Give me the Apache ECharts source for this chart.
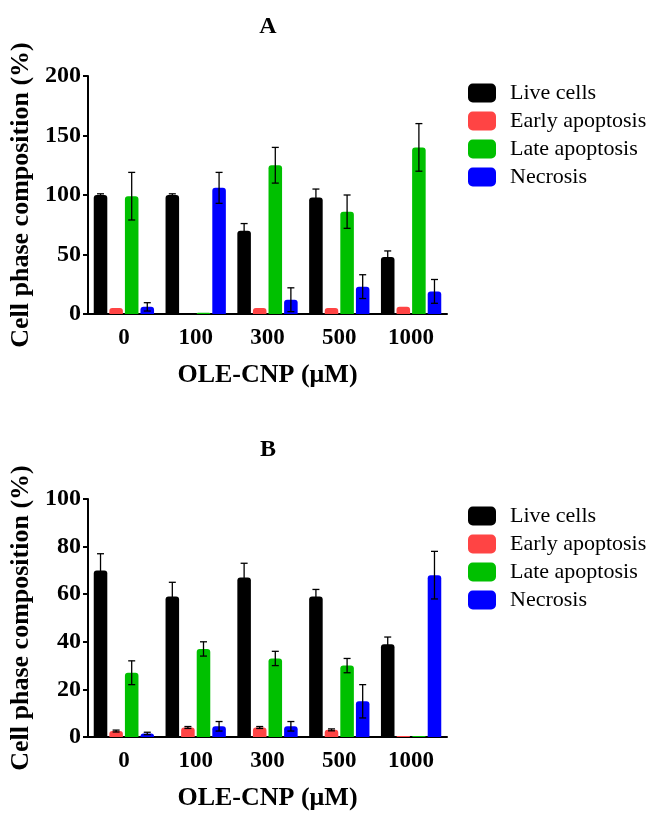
<!DOCTYPE html>
<html>
<head>
<meta charset="utf-8">
<script src="https://cdn.jsdelivr.net/npm/echarts@6/dist/echarts.min.js"></script>
<style>
  html, body { margin: 0; padding: 0; background: #fff; }
  #main { width: 651px; height: 815px; }
</style>
</head>
<body>
<div id="main"></div>
<script>
// doses on the x axis
var doses = ['0', '100', '300', '500', '1000'];
var seriesNames = ['Live cells', 'Early apoptosis', 'Late apoptosis', 'Necrosis'];
var colors = ['#000000', '#ff4444', '#00c000', '#0000ff'];

// panel A (mean, error)
var liveA = [100, 100, 70, 98, 48];
var liveErrA = [1, 1, 6, 7, 5];
var earlyA = [5, 0, 5, 5, 6];
var earlyErrA = [0, 0, 0, 0, 0];
var lateA = [99, 1, 125, 86, 140];
var lateErrA = [20, 0, 15, 14, 20];
var necA = [6, 106, 12, 23, 19];
var necErrA = [3.5, 13, 10, 10, 10];

// panel B (mean, error)
var liveB = [70, 59, 67, 59, 39];
var liveErrB = [7, 6, 6, 3, 3];
var earlyB = [2.5, 4, 4, 3, 0.4];
var earlyErrB = [0.4, 0.4, 0.4, 0.4, 0];
var lateB = [27, 37, 33, 30, 0.4];
var lateErrB = [5, 3, 3, 3, 0];
var necB = [1.5, 4.5, 4.5, 15, 68];
var necErrB = [0.5, 2, 2, 7, 10];

var FONT = 'Liberation Serif';
var catGap = 0.16, barGap = 0.15, nBars = 4;

function barSeries(grid, idx, vals) {
    return {
        name: seriesNames[idx],
        type: 'bar',
        xAxisIndex: grid,
        yAxisIndex: grid,
        data: vals,
        barGap: (barGap * 100) + '%',
        barCategoryGap: (catGap * 100) + '%',
        itemStyle: { color: colors[idx], borderRadius: [3, 3, 0, 0] }
    };
}

function errSeries(grid, idx, vals, errs) {
    var data = [];
    for (var i = 0; i < vals.length; i++) {
        data.push([i, vals[i] - errs[i], vals[i] + errs[i], errs[i]]);
    }
    return {
        name: 'err' + grid + idx,
        type: 'custom',
        xAxisIndex: grid,
        yAxisIndex: grid,
        z: 5,
        silent: true,
        data: data,
        renderItem: function (params, api) {
            if (api.value(3) <= 0) return null;
            var x = api.value(0);
            var lo = api.coord([x, api.value(1)]);
            var hi = api.coord([x, api.value(2)]);
            var band = api.size([1, 0])[0];
            var w = band * (1 - catGap) / (nBars + (nBars - 1) * barGap);
            var cx = hi[0] - band * (1 - catGap) / 2 + idx * w * (1 + barGap) + w / 2;
            var st = { stroke: '#000', lineWidth: 1.3 };
            return {
                type: 'group',
                children: [
                    { type: 'line', shape: { x1: cx, y1: lo[1], x2: cx, y2: hi[1] }, style: st },
                    { type: 'line', shape: { x1: cx - 3.5, y1: hi[1], x2: cx + 3.5, y2: hi[1] }, style: st },
                    { type: 'line', shape: { x1: cx - 3.5, y1: lo[1], x2: cx + 3.5, y2: lo[1] }, style: st }
                ]
            };
        }
    };
}

function xAxis(grid) {
    return {
        type: 'category',
        gridIndex: grid,
        data: doses,
        name: 'OLE-CNP (\u03bcM)',
        nameLocation: 'middle',
        nameGap: 48,
        nameTextStyle: { fontFamily: FONT, fontWeight: 'bold', fontSize: 26, color: '#000' },
        axisLine: { lineStyle: { color: '#000', width: 2 } },
        axisTick: { alignWithLabel: true, length: 6, lineStyle: { color: '#000', width: 2 } },
        axisLabel: { fontFamily: FONT, fontWeight: 'bold', fontSize: 23, color: '#000', margin: 13 }
    };
}

function yAxis(grid, max, step) {
    return {
        type: 'value',
        gridIndex: grid,
        min: 0,
        max: max,
        interval: step,
        name: 'Cell phase composition (%)',
        nameLocation: 'middle',
        nameGap: 54,
        nameTextStyle: { fontFamily: FONT, fontWeight: 'bold', fontSize: 26, color: '#000' },
        axisLine: { show: true, lineStyle: { color: '#000', width: 2 } },
        axisTick: { show: true, length: 5, lineStyle: { color: '#000', width: 2 } },
        axisLabel: { fontFamily: FONT, fontWeight: 'bold', fontSize: 24, color: '#000', margin: 7 },
        splitLine: { show: false }
    };
}

function legend(top) {
    return {
        orient: 'vertical',
        left: 468,
        top: top,
        padding: 0,
        data: seriesNames,
        itemWidth: 28,
        itemHeight: 19,
        itemGap: 6,
        icon: 'roundRect',
        textStyle: { fontFamily: FONT, fontSize: 22, color: '#000', padding: [0, 0, 0, 9] }
    };
}

var chart = echarts.init(document.getElementById('main'));
var option = {
    backgroundColor: '#fff',
    animation: false,
    title: [
        { text: 'A', left: 263, top: 10, textAlign: 'center',
          textStyle: { fontFamily: FONT, fontWeight: 'bold', fontSize: 24, color: '#000' } },
        { text: 'B', left: 263, top: 433, textAlign: 'center',
          textStyle: { fontFamily: FONT, fontWeight: 'bold', fontSize: 24, color: '#000' } }
    ],
    legend: [legend(82), legend(505)],
    grid: [
        { left: 88, top: 76, width: 359, height: 238 },
        { left: 88, top: 499, width: 359, height: 238 }
    ],
    xAxis: [xAxis(0), xAxis(1)],
    yAxis: [yAxis(0, 200, 50), yAxis(1, 100, 20)],
    series: [
        barSeries(0, 0, liveA), barSeries(0, 1, earlyA), barSeries(0, 2, lateA), barSeries(0, 3, necA),
        barSeries(1, 0, liveB), barSeries(1, 1, earlyB), barSeries(1, 2, lateB), barSeries(1, 3, necB),
        errSeries(0, 0, liveA, liveErrA), errSeries(0, 1, earlyA, earlyErrA),
        errSeries(0, 2, lateA, lateErrA), errSeries(0, 3, necA, necErrA),
        errSeries(1, 0, liveB, liveErrB), errSeries(1, 1, earlyB, earlyErrB),
        errSeries(1, 2, lateB, lateErrB), errSeries(1, 3, necB, necErrB)
    ]
};
chart.setOption(option);
</script>
</body>
</html>
